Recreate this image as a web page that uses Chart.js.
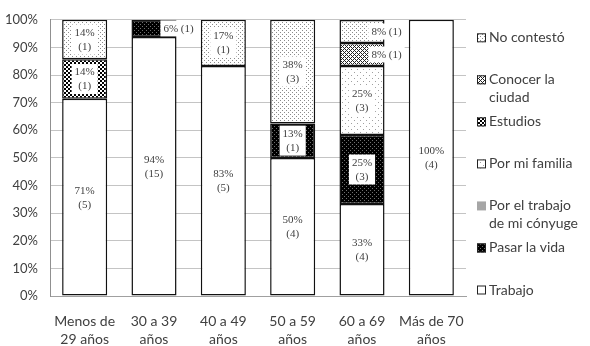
<!DOCTYPE html>
<html>
<head>
<meta charset="utf-8">
<script src="https://cdn.jsdelivr.net/npm/chart.js@4/dist/chart.umd.min.js"></script>
<style>
  html, body { margin: 0; padding: 0; background: #fff; }
  #wrap { width: 590px; height: 346px; }
</style>
</head>
<body>
<div id="wrap"><canvas id="c" width="590" height="346"></canvas></div>
<script>
// ---- DATA ----
const categories = [['Menos de', '29 años'], ['30 a 39', 'años'], ['40 a 49', 'años'], ['50 a 59', 'años'], ['60 a 69', 'años'], ['Más de 70', 'años']];
const seriesNames = ['Trabajo', 'Pasar la vida', 'Por el trabajo de mi cónyuge', 'Por mi familia', 'Estudios', 'Conocer la ciudad', 'No contestó'];
// percentages (bar heights)
const trabajoPct      = [71.4, 93.75, 83.3, 50.0, 33.3, 100];
const pasarVidaPct    = [0, 6.25, 0, 12.5, 25.0, 0];
const conyugePct      = [0, 0, 0, 0, 0, 0];
const familiaPct      = [0, 0, 0, 0, 25.0, 0];
const estudiosPct     = [14.3, 0, 0, 0, 0, 0];
const conocerPct      = [0, 0, 0, 0, 8.3, 0];
const noContestoPct   = [14.3, 0, 16.7, 37.5, 8.3, 0];
// counts (shown in parentheses)
const trabajoN    = [5, 15, 5, 4, 4, 4];
const pasarVidaN  = [0, 1, 0, 1, 3, 0];
const conyugeN    = [0, 0, 0, 0, 0, 0];
const familiaN    = [0, 0, 0, 0, 3, 0];
const estudiosN   = [1, 0, 0, 0, 0, 0];
const conocerN    = [0, 0, 0, 0, 1, 0];
const noContestoN = [1, 0, 1, 3, 1, 0];
const yTicks = [0, 10, 20, 30, 40, 50, 60, 70, 80, 90, 100];

const pctSeries = [trabajoPct, pasarVidaPct, conyugePct, familiaPct, estudiosPct, conocerPct, noContestoPct];
const countSeries = [trabajoN, pasarVidaN, conyugeN, familiaN, estudiosN, conocerN, noContestoN];

// ---- PATTERNS ----
function makePattern(size, bg, fg, fn) {
  const c = document.createElement('canvas');
  c.width = size; c.height = size;
  const g = c.getContext('2d');
  g.fillStyle = bg; g.fillRect(0, 0, size, size);
  g.fillStyle = fg;
  for (let y = 0; y < size; y++) for (let x = 0; x < size; x++) if (fn(x, y)) g.fillRect(x, y, 1, 1);
  return g.createPattern(c, 'repeat');
}
const fills = [
  '#ffffff',                                                                       // Trabajo
  makePattern(4, '#000000', '#707070', (x, y) => (x === 0 && y === 0) || (x === 2 && y === 2)), // Pasar la vida
  '#a6a6a6',                                                                       // cónyuge
  makePattern(6, '#ffffff', '#a0a0a0', (x, y) => (x === 0 && y === 0) || (x === 3 && y === 3)), // familia
  makePattern(4, '#ffffff', '#000000', (x, y) => ((x < 2) === (y < 2))),            // Estudios
  makePattern(4, '#ffffff', '#222222', (x, y) => ((x + y) % 4 === 0) || (((x - y) % 4 + 4) % 4 === 0)), // Conocer
  makePattern(4, '#ffffff', '#8a8a8a', (x, y) => (x === 0 && y === 0) || (x === 2 && y === 2))  // No contestó
];

const datasets = seriesNames.map((name, i) => ({
  label: name,
  data: pctSeries[i].map(v => v === 0 ? null : v),
  counts: countSeries[i],
  backgroundColor: fills[i],
  borderColor: '#111',
  borderWidth: 1.5,
  borderSkipped: false,
  barPercentage: 0.65,
  categoryPercentage: 1.0
}));

const FONT = 'Lato, "Open Sans", sans-serif';
const LABEL_FONT = '"Liberation Serif", serif';

const labelPlugin = {
  id: 'segLabels',
  afterDatasetsDraw(chart) {
    const ctx = chart.ctx;
    ctx.save();
    ctx.font = '11px ' + LABEL_FONT;
    ctx.textAlign = 'center';
    ctx.textBaseline = 'middle';
    chart.data.datasets.forEach((ds, i) => {
      const meta = chart.getDatasetMeta(i);
      meta.data.forEach((bar, j) => {
        const v = ds.data[j];
        if (v == null || v === 0) return;
        const pct = Math.round(v) + '%';
        const cnt = '(' + ds.counts[j] + ')';
        const p = bar.getProps(['x', 'y', 'base', 'width'], true);
        const cy = (p.y + p.base) / 2;
        let lines, cx;
        if (v < 10) {
          lines = [pct + ' ' + cnt];
          cx = p.x + p.width / 2 + 2;
        } else {
          lines = [pct, cnt];
          cx = p.x;
        }
        const lh = 14;
        const w = Math.max(...lines.map(l => ctx.measureText(l).width)) + 6;
        const h = lines.length * lh + 2;
        ctx.fillStyle = '#ffffff';
        ctx.fillRect(cx - w / 2, cy - h / 2, w, h);
        ctx.fillStyle = '#404040';
        lines.forEach((l, k) => {
          ctx.fillText(l, cx, cy - (lines.length - 1) * lh / 2 + k * lh + 0.5);
        });
      });
    });
    ctx.restore();
  }
};

const legendPlugin = {
  id: 'sideLegend',
  afterDraw(chart) {
    const ctx = chart.ctx;
    const area = chart.chartArea;
    ctx.save();
    ctx.font = '14px ' + FONT;
    ctx.textBaseline = 'middle';
    ctx.textAlign = 'left';
    const boxX = area.right + 11;
    const textX = area.right + 23;
    const maxW = chart.width - textX - 3;
    const firstY = area.top + 18;
    const lastY = area.bottom - 6;
    const n = chart.data.datasets.length;
    const step = (lastY - firstY) / (n - 1);
    const order = chart.data.datasets.map((d, i) => i).reverse();
    order.forEach((di, k) => {
      const ds = chart.data.datasets[di];
      const y = firstY + k * step;
      const words = ds.label.split(' ');
      const lines = [];
      let cur = '';
      words.forEach(w => {
        const t = cur ? cur + ' ' + w : w;
        if (ctx.measureText(t).width > maxW && cur) { lines.push(cur); cur = w; }
        else cur = t;
      });
      if (cur) lines.push(cur);
      ctx.fillStyle = ds.backgroundColor;
      ctx.fillRect(boxX, y - 4.5, 9, 9);
      if (ds.backgroundColor !== '#a6a6a6') {
        ctx.strokeStyle = '#222';
        ctx.lineWidth = 1;
        ctx.strokeRect(boxX + 0.5, y - 4, 8, 8);
      }
      ctx.fillStyle = '#404040';
      lines.forEach((l, li) => ctx.fillText(l, textX, y + li * 18));
    });
    ctx.restore();
  }
};

new Chart(document.getElementById('c'), {
  type: 'bar',
  data: { labels: categories, datasets },
  options: {
    responsive: false,
    animation: false,
    devicePixelRatio: 1,
    layout: { padding: { top: 10, right: 124, left: 0, bottom: 0 } },
    plugins: { legend: { display: false }, tooltip: { enabled: false } },
    scales: {
      x: {
        stacked: true,
        grid: { display: false },
        border: { display: true, color: '#a0a0a0' },
        ticks: { color: '#404040', font: { family: FONT, size: 14, lineHeight: 1.3 }, padding: 8, maxRotation: 0 },
        afterFit(s) { s.height = 50; }
      },
      y: {
        stacked: true,
        min: 0, max: 100,
        afterBuildTicks(s) { s.ticks = yTicks.map(v => ({ value: v })); },
        grid: { color: '#c4c4c4', drawTicks: false, lineWidth: 1 },
        border: { display: true, color: '#909090' },
        ticks: { color: '#404040', font: { family: FONT, size: 13 }, padding: 12, callback: v => v + '%' },
        afterFit(s) { s.width = 50; }
      }
    }
  },
  plugins: [labelPlugin, legendPlugin]
});
</script>
</body>
</html>
